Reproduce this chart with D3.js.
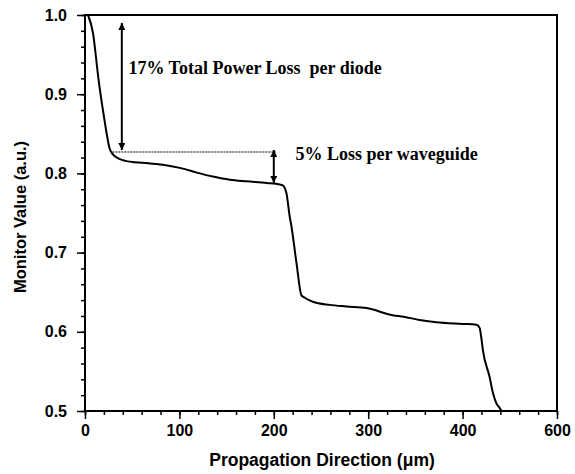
<!DOCTYPE html>
<html>
<head>
<meta charset="utf-8">
<script src="https://cdn.jsdelivr.net/npm/d3@7"></script>
<style>
  body { margin: 0; background: #fff; }
  .axis text { font-family: "Liberation Sans", Arial, sans-serif; font-weight: bold; font-size: 16px; fill: #000; }
</style>
</head>
<body>
<svg class="chart"></svg>
<script>
// curve: propagation (um) vs monitor value
const xs = [3.2, 8.5, 13.8, 15.3, 19.0, 23.3, 25.9, 29.6, 33.9, 39.2, 52.9, 65.6, 82.5, 100.5, 118.5,
    135.4, 153.4, 171.4, 192.6, 206.3, 209.5, 213.4, 216.9, 218.7, 224.0, 229.3, 232.8, 241.3, 259.3,
    276.9, 298.1, 325.9, 337.6, 354.5, 372.2, 400.0, 414.8, 418.0, 420.1, 421.5, 428.6, 432.1, 435.7,
    439.2, 441.3];
const ys = [1.000, 0.977, 0.924, 0.910, 0.880, 0.848, 0.832, 0.824, 0.820, 0.817, 0.814, 0.813, 0.811,
    0.807, 0.801, 0.796, 0.792, 0.790, 0.788, 0.786, 0.785, 0.775, 0.745, 0.733, 0.687, 0.646, 0.643,
    0.638, 0.634, 0.632, 0.630, 0.621, 0.619, 0.615, 0.612, 0.610, 0.609, 0.605, 0.590, 0.577, 0.543,
    0.523, 0.510, 0.504, 0.500];

const xTicks = [0, 100, 200, 300, 400, 500];
const xTickLabels = ["0", "100", "200", "300", "400", "600"];
const yTicks = [0.5, 0.6, 0.7, 0.8, 0.9, 1.0];

// annotations (data units)
const refLevel = 0.827;          // dotted reference line
const diodeArrow = {x: 39, top: 0.99, bottom: 0.8295};
const guideArrow = {x: 200, top: 0.8295, bottom: 0.788};
const refLineX = [29, 202];
const note1 = {x: 46, y: 0.926, text: "17% Total Power Loss  per diode"};
const note2 = {x: 223, y: 0.817, text: "5% Loss per waveguide"};

function chart() {
    const margin = {top: 15, right: 18, bottom: 63, left: 85},
        width = 575 - margin.left - margin.right,
        height = 474 - margin.top - margin.bottom;

    const root = d3.select(".chart")
        .attr("width", width + margin.left + margin.right)
        .attr("height", height + margin.top + margin.bottom);

    const defs = root.append("defs");
    defs.append("marker")
        .attr("id", "head")
        .attr("viewBox", "0 0 10 10")
        .attr("refX", 10).attr("refY", 5)
        .attr("markerWidth", 7).attr("markerHeight", 7)
        .attr("markerUnits", "userSpaceOnUse")
        .attr("orient", "auto-start-reverse")
        .append("path")
        .attr("d", "M0,0 L10,5 L0,10 z")
        .attr("fill", "#000");

    const svg = root.append("g")
        .attr("transform", `translate(${margin.left}, ${margin.top})`);

    const x = d3.scaleLinear().domain([0, 500]).range([0, width]);
    const y = d3.scaleLinear().domain([0.5, 1.0]).range([height, 0]);

    // minor ticks
    svg.append("g")
        .attr("transform", `translate(0,${height})`)
        .call(d3.axisBottom(x).tickValues(d3.range(0, 501, 20)).tickSize(4).tickFormat(""))
        .call(g => g.select(".domain").remove());
    svg.append("g")
        .call(d3.axisLeft(y).tickValues(d3.range(0.5, 1.001, 0.02)).tickSize(4).tickFormat(""))
        .call(g => g.select(".domain").remove());

    // major ticks
    svg.append("g")
        .attr("class", "axis")
        .attr("transform", `translate(0,${height})`)
        .call(d3.axisBottom(x).tickValues(xTicks).tickSize(8).tickPadding(6)
            .tickFormat((d, i) => xTickLabels[i]))
        .call(g => g.select(".domain").remove());
    svg.append("g")
        .attr("class", "axis")
        .call(d3.axisLeft(y).tickValues(yTicks).tickSize(8).tickPadding(10).tickFormat(d3.format(".1f")))
        .call(g => g.select(".domain").remove());

    svg.selectAll(".tick line").attr("stroke", "#000").attr("stroke-width", 1.5);

    // frame
    svg.append("rect")
        .attr("width", width).attr("height", height)
        .attr("fill", "none").attr("stroke", "#000").attr("stroke-width", 2);

    // curve
    const line = d3.line()
        .x((d, i) => x(xs[i]))
        .y(d => y(d))
        .curve(d3.curveMonotoneX);

    svg.append("path")
        .datum(ys)
        .attr("fill", "none")
        .attr("stroke", "#000")
        .attr("stroke-width", 2)
        .attr("d", line);

    // dotted reference level
    svg.append("line")
        .attr("x1", x(refLineX[0])).attr("x2", x(refLineX[1]))
        .attr("y1", y(refLevel)).attr("y2", y(refLevel))
        .attr("stroke", "#000").attr("stroke-width", 1.2)
        .attr("stroke-dasharray", "2,1");

    [diodeArrow, guideArrow].forEach(a => {
        svg.append("line")
            .attr("x1", x(a.x)).attr("x2", x(a.x))
            .attr("y1", y(a.top)).attr("y2", y(a.bottom))
            .attr("stroke", "#000").attr("stroke-width", 2)
            .attr("marker-start", "url(#head)")
            .attr("marker-end", "url(#head)");
    });

    [note1, note2].forEach(n => {
        svg.append("text")
            .attr("x", x(n.x)).attr("y", y(n.y))
            .attr("font-family", "'Liberation Serif', 'Times New Roman', serif")
            .attr("font-weight", "bold")
            .attr("font-size", 18)
            .attr("xml:space", "preserve")
            .style("white-space", "pre")
            .text(n.text);
    });

    // axis titles
    svg.append("text")
        .attr("x", width / 2 + 1).attr("y", height + 55)
        .attr("text-anchor", "middle")
        .attr("font-family", "'Liberation Sans', Arial, sans-serif")
        .attr("font-weight", "bold").attr("font-size", 17.5)
        .text("Propagation Direction (\u03bcm)");

    svg.append("text")
        .attr("transform", `translate(${-59}, ${height / 2 + 4}) rotate(-90)`)
        .attr("text-anchor", "middle")
        .attr("font-family", "'Liberation Sans', Arial, sans-serif")
        .attr("font-weight", "bold").attr("font-size", 16.5)
        .text("Monitor Value (a.u.)");
}

chart();
</script>
</body>
</html>
